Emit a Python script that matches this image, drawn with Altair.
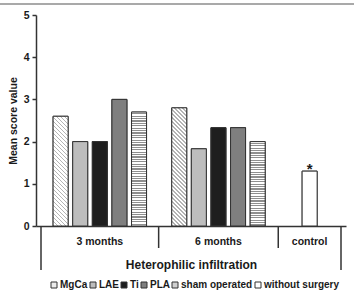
import altair as alt

# ---------------- data ----------------
GROUPS = ["3 months", "6 months", "control"]
SERIES = ["MgCa", "LAE", "Ti", "PLA", "sham operated", "without surgery"]
SER_3M = ["MgCa", "LAE", "Ti", "PLA", "sham operated"]
VAL_3M = [2.6, 2.0, 2.0, 3.0, 2.7]
SER_6M = ["MgCa", "LAE", "Ti", "PLA", "sham operated"]
VAL_6M = [2.8, 1.83, 2.33, 2.33, 2.0]
SER_CTRL = ["without surgery"]
VAL_CTRL = [1.3]
NOTE_CTRL = ["*"]
Y_TICKS = [0, 1, 2, 3, 4, 5]

# ---------------- layout / style ----------------
W, H = 310, 211
YMAX = 5
GROUP_SPAN = [6.0, 6.1, 3.2]
BAR_PX = 15
FONT = "Liberation Sans"
TXT = "#1a1a1a"
LINE = "#333333"
LEGEND_COLORS = ["#ececec", "#bdbdbd", "#1e1e1e", "#7f7f7f", "#cfcfcf", "#ffffff"]
SOLID = dict(zip(SERIES, LEGEND_COLORS))


def diag_hatch(h, w=BAR_PX, period=4.0, lw=1.4, line="#b4b4b4", bg="#ffffff"):
    total = w + h
    k = (w + h) / (w * w + h * h)
    stops = []
    pos = 0.0
    while pos < total:
        a = pos / total
        b = min((pos + lw) / total, 1.0)
        c = min((pos + period) / total, 1.0)
        stops += [{"offset": a, "color": line}, {"offset": b, "color": line},
                  {"offset": b, "color": bg}, {"offset": c, "color": bg}]
        pos += period
    return {"gradient": "linear", "x1": 0, "y1": 1, "x2": w * k, "y2": 1 - h * k, "stops": stops}


def horiz_stripes(h, period=2.4, lw=1.2, line="#8f8f8f", bg="#ffffff"):
    stops = []
    pos = 0.0
    while pos < h:
        a = pos / h
        b = min((pos + lw) / h, 1.0)
        c = min((pos + period) / h, 1.0)
        stops += [{"offset": a, "color": bg}, {"offset": b, "color": bg},
                  {"offset": b, "color": line}, {"offset": c, "color": line}]
        pos += period
    return {"gradient": "linear", "x1": 0, "y1": 0, "x2": 0, "y2": 1, "stops": stops}


def fill_for(series, value):
    hpx = value / YMAX * H
    if series == "MgCa":
        return diag_hatch(hpx)
    if series == "sham operated":
        return horiz_stripes(hpx)
    return SOLID[series]


group_series = [SER_3M, SER_6M, SER_CTRL]
group_values = [VAL_3M, VAL_6M, VAL_CTRL]
group_notes = [[""] * len(SER_3M), [""] * len(SER_6M), NOTE_CTRL]

bars, groups, long_rules, short_rules = [], [], [], []
start = 0.0
for gi, g in enumerate(GROUPS):
    span = GROUP_SPAN[gi]
    n = len(group_series[gi])
    off = (span - n - 1) / 2
    for i, (s, v) in enumerate(zip(group_series[gi], group_values[gi])):
        bars.append({"group": g, "series": s, "value": v, "pos": start + off + i + 1,
                     "note": group_notes[gi][i], "pattern": fill_for(s, v)})
    groups.append({"group": g, "center": start + span / 2})
    if gi == 0:
        long_rules.append({"b": start})
    else:
        short_rules.append({"b": start})
    start += span
long_rules.append({"b": start})

xscale = alt.Scale(domain=[0, start], nice=False, zero=False)
yscale = alt.Scale(domain=[0, YMAX], nice=False)

bar_data = alt.Data(values=bars)

x_enc = alt.X("pos:Q", scale=xscale,
              axis=alt.Axis(labels=False, ticks=False, grid=False, domain=True,
                            domainColor=LINE, domainWidth=1.5,
                            title="Heterophilic infiltration", titlePadding=33,
                            titleFont=FONT, titleFontSize=12, titleFontWeight="bold",
                            titleColor=TXT))
y_enc = alt.Y("value:Q", scale=yscale,
              axis=alt.Axis(values=Y_TICKS, grid=False, domainColor=LINE, domainWidth=1.5,
                            tickColor=LINE, tickWidth=1.5, tickSize=4, labelPadding=3,
                            labelFont=FONT, labelFontSize=10.5, labelFontWeight="bold",
                            labelColor=TXT, title="Mean score value", titleFont=FONT,
                            titleFontSize=10.5, titleFontWeight="bold", titleColor=TXT,
                            titlePadding=5))

legend_bars = alt.Chart(bar_data).mark_bar(size=BAR_PX, stroke=LINE, strokeWidth=1).encode(
    x=x_enc, y=y_enc,
    fill=alt.Fill("series:N", scale=alt.Scale(domain=SERIES, range=LEGEND_COLORS),
                  legend=alt.Legend(orient="none", legendX=13, legendY=265,
                                    direction="horizontal", title=None,
                                    symbolType="square", symbolSize=36,
                                    symbolStrokeColor=LINE, symbolStrokeWidth=1,
                                    labelFont=FONT, labelFontSize=10,
                                    labelFontWeight="bold", labelColor=TXT,
                                    labelOffset=1, columnPadding=0, padding=0)),
)

pattern_bars = alt.Chart(bar_data).mark_bar(size=BAR_PX, stroke=LINE, strokeWidth=1).encode(
    x=alt.X("pos:Q", scale=xscale),
    y=alt.Y("value:Q", scale=yscale),
    fill=alt.Fill("pattern:N", scale=None),
)

notes = alt.Chart(bar_data).mark_text(font=FONT, fontSize=15, fontWeight="bold",
                                      color=TXT, baseline="alphabetic", dy=3).encode(
    x=alt.X("pos:Q", scale=xscale),
    y=alt.Y("value:Q", scale=yscale),
    text="note:N",
)

group_labels = alt.Chart(alt.Data(values=groups)).mark_text(
    font=FONT, fontSize=10.5, fontWeight="bold", color=TXT, baseline="middle").encode(
    x=alt.X("center:Q", scale=xscale),
    y=alt.value(H + 16),
    text="group:N",
)

rules_long = alt.Chart(alt.Data(values=long_rules)).mark_rule(color=LINE, strokeWidth=1.5).encode(
    x=alt.X("b:Q", scale=xscale), y=alt.value(H), y2=alt.value(H + 44))
rules_short = alt.Chart(alt.Data(values=short_rules)).mark_rule(color=LINE, strokeWidth=1.5).encode(
    x=alt.X("b:Q", scale=xscale), y=alt.value(H), y2=alt.value(H + 22))

frame = alt.Chart(alt.Data(values=[{"k": 0}])).mark_rule(color="#8c8c8c", strokeWidth=1.5).encode(
    x=alt.value(-36), x2=alt.value(318), y=alt.value(-11))

chart = alt.layer(legend_bars, pattern_bars, notes, group_labels, rules_long, rules_short, frame).properties(
    width=W, height=H, autosize=alt.AutoSizeParams(type="none"),
    padding={"left": 36, "top": 15, "right": 10, "bottom": 68},
    background="white",
).configure_view(stroke=None)

chart.save("out.html", embed_options={"renderer": "svg", "actions": False})
